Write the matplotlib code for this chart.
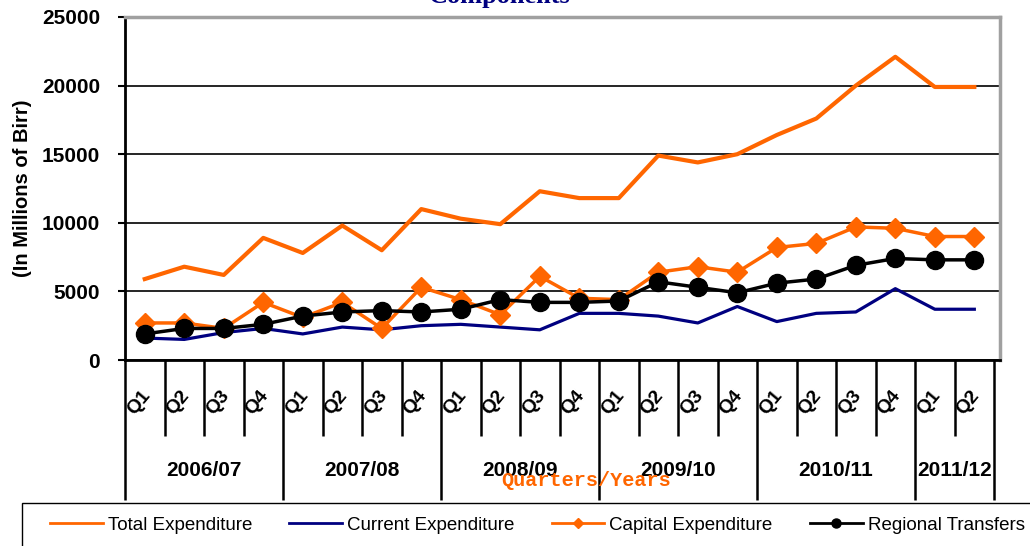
import matplotlib
matplotlib.use("Agg")
import matplotlib.pyplot as plt
from matplotlib.patches import Rectangle
import matplotlib.transforms as mtransforms

# quarterly values, millions of Birr
quarters = ['Q1', 'Q2', 'Q3', 'Q4'] * 5 + ['Q1', 'Q2']
years = ['2006/07', '2007/08', '2008/09', '2009/10', '2010/11', '2011/12']
year_len = [4, 4, 4, 4, 4, 2]

total = [5900, 6800, 6200, 8900, 7800, 9800, 8000, 11000, 10300, 9900, 12300,
         11800, 11800, 14900, 14400, 15000, 16400, 17600, 20000, 22100, 19900, 19900]
current = [1600, 1500, 2000, 2300, 1900, 2400, 2200, 2500, 2600, 2400, 2200,
           3400, 3400, 3200, 2700, 3900, 2800, 3400, 3500, 5200, 3700, 3700]
capital = [2700, 2700, 2300, 4200, 3100, 4200, 2300, 5300, 4400, 3300, 6100,
           4500, 4400, 6400, 6800, 6400, 8200, 8500, 9700, 9600, 9000, 9000]
regional = [1900, 2300, 2300, 2600, 3200, 3500, 3600, 3500, 3700, 4400, 4200,
            4200, 4300, 5700, 5300, 4900, 5600, 5900, 6900, 7400, 7300, 7300]

ORANGE = '#FF6600'
NAVY = '#000080'
W, H = 1030, 546

plt.rcParams['font.family'] = ['Liberation Sans', 'DejaVu Sans']

fig = plt.figure(figsize=(W / 100, H / 100), dpi=100)
ax = fig.add_axes([125 / W, 1 - 360 / H, 875 / W, 343 / H])

x = list(range(len(total)))
ax.plot(x, total, color=ORANGE, lw=3, label='Total Expenditure', zorder=3)
ax.plot(x, current, color=NAVY, lw=2.3, label='Current Expenditure', zorder=3)
ax.plot(x, capital, color=ORANGE, lw=2.5, marker='D', ms=10, mec=ORANGE,
        label='Capital Expenditure', zorder=4)
ax.plot(x, regional, color='black', lw=2.5, marker='o', ms=13,
        label='Regional Transfers', zorder=5)

ax.set_xlim(-0.5, 21.65)
ax.set_ylim(0, 25000)
ax.set_yticks(range(0, 25001, 5000))
ax.yaxis.grid(True, color='black', lw=1.2)
ax.set_axisbelow(True)
ax.tick_params(axis='y', direction='out', length=5, width=1.5, pad=13)
for lab in ax.get_yticklabels():
    lab.set_fontweight('bold')
    lab.set_fontsize(15)

ax.spines['top'].set_color('#A0A0A0')
ax.spines['top'].set_linewidth(2.5)
ax.spines['right'].set_color('#A0A0A0')
ax.spines['right'].set_linewidth(2.5)
ax.spines['left'].set_linewidth(2)
ax.spines['bottom'].set_linewidth(2)

ax.set_ylabel('(In Millions of Birr)', fontsize=14.5, fontweight='bold', labelpad=7)

# two-level category axis: quarter lines and longer year lines
bounds = [-0.5]
for n in year_len:
    bounds.append(bounds[-1] + n)
minor = [b - 0.5 for b in range(len(total) + 1) if (b - 0.5) not in bounds]
ax.set_xticks(bounds)
ax.set_xticks(minor, minor=True)
ax.tick_params(axis='x', which='major', direction='out', length=101, width=1.8,
               labelbottom=False)
ax.tick_params(axis='x', which='minor', direction='out', length=55, width=1.8,
               labelbottom=False)

trans = mtransforms.blended_transform_factory(ax.transData, ax.transAxes)
for i, q in enumerate(quarters):
    ax.text(i - 0.15, -0.123, q, transform=trans, rotation=50, ha='center',
            va='center', fontsize=14, fontweight='bold')
for j, yr in enumerate(years):
    mid = (bounds[j] + bounds[j + 1]) / 2
    ax.text(mid, -0.322, yr, transform=trans, ha='center', va='center',
            fontsize=15, fontweight='bold')

fig.text(586 / W, 1 - 481 / H, 'Quarters/Years', color=ORANGE, ha='center',
         va='center', fontsize=14.5, fontweight='bold',
         family=['Liberation Mono', 'DejaVu Sans Mono'])
fig.text(500 / W, 1 - 3 / H, 'Components', color=NAVY, ha='center',
         va='baseline', fontsize=19, fontweight='bold',
         family=['Liberation Serif', 'DejaVu Serif'])

leg = fig.legend(loc='center left', bbox_to_anchor=(50 / W, 1 - 525 / H),
                 ncol=4, frameon=False, borderpad=0, borderaxespad=0,
                 handlelength=2.8, handletextpad=0.27, columnspacing=2.0,
                 markerscale=0.5, prop={'size': 13.5})
for ln in leg.get_lines():
    ln.set_linewidth(2)
fig.patches.append(Rectangle((22 / W, -0.1), 1.1, 0.1 + 43 / H, fill=False,
                             lw=1, edgecolor='black',
                             transform=fig.transFigure, figure=fig))

fig.savefig('out.png', dpi=100)
